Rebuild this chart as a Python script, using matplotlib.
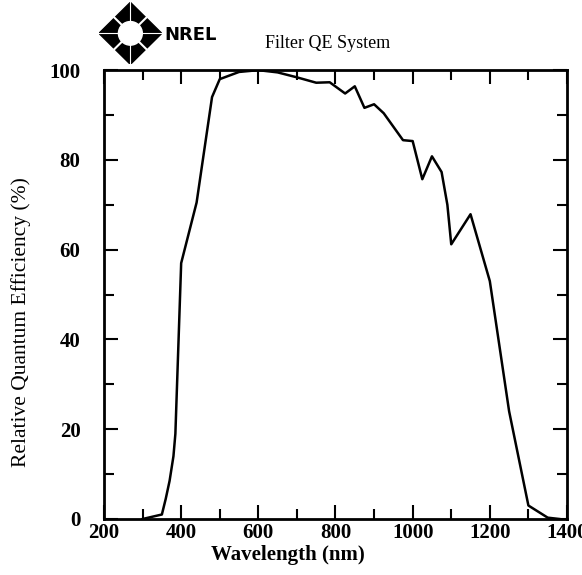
import matplotlib
matplotlib.use("Agg")
import matplotlib.pyplot as plt
from matplotlib.patches import Polygon, Circle

# courbe QE relative
wavelength = [300, 350, 360, 370, 380, 385, 400, 440, 480, 500, 550, 600, 650, 700,
              750, 785, 825, 850, 875, 900, 925, 975, 1000, 1025, 1050, 1075, 1090,
              1100, 1150, 1200, 1250, 1300, 1350, 1380]
rel_qe = [0, 1, 4.5, 8.5, 14, 19, 57, 70.5, 94, 98, 99.6, 100, 99.5, 98.4,
          97.2, 97.3, 94.8, 96.4, 91.6, 92.4, 90.4, 84.4, 84.2, 75.7, 80.8, 77.3, 70,
          61.2, 67.9, 53, 24, 3, 0.3, 0]
x_ticks = [200, 400, 600, 800, 1000, 1200, 1400]
y_ticks = [0, 20, 40, 60, 80, 100]

serif = ["Liberation Serif", "DejaVu Serif"]

fig = plt.figure(figsize=(5.82, 5.75), dpi=100)
ax = fig.add_axes([0.1787, 0.0974, 0.7955, 0.7806])

ax.plot(wavelength, rel_qe, color="black", lw=1.8)

ax.set_xlim(200, 1400)
ax.set_ylim(0, 100)
ax.set_xticks(x_ticks)
ax.set_yticks(y_ticks)
ax.set_xticks(range(300, 1400, 200), minor=True)
ax.set_yticks(range(10, 100, 20), minor=True)
ax.tick_params(which="both", direction="in", top=True, right=True, width=1.5)
ax.tick_params(which="major", length=10)
ax.tick_params(which="minor", length=7)
ax.tick_params(axis="x", which="major", pad=3)
ax.tick_params(axis="y", which="major", pad=17)
for lab in ax.get_xticklabels() + ax.get_yticklabels():
    lab.set_family(serif)
    lab.set_fontweight("bold")
    lab.set_fontsize(15)
for s in ax.spines.values():
    s.set_linewidth(2)

ax.set_xlabel("Wavelength (nm)", family=serif, fontweight="bold", fontsize=15)
ax.set_ylabel("Relative Quantum Efficiency (%)", family=serif, fontsize=15.5)
ax.xaxis.set_label_coords(0.397, -0.058)
ax.yaxis.set_label_coords(-0.158, 0.439)

# titre + logo NREL approximatif
fig.text(0.455, 0.925, "Filter QE System", family=serif, fontsize=13, va="center", ha="left")
fig.text(0.282, 0.94, "NREL", family="DejaVu Sans", fontweight="heavy", fontsize=13,
         va="center", ha="left")

logo = fig.add_axes([0.170, 0.888, 0.108, 0.108])
logo.set_xlim(-1, 1)
logo.set_ylim(-1, 1)
logo.axis("off")
logo.add_patch(Polygon([[0, 1], [1, 0], [0, -1], [-1, 0]], closed=True, color="black"))
logo.add_patch(Circle((0, 0), 0.38, color="white"))
for dx, dy in [(1, 1), (1, -1)]:
    logo.plot([-dx, dx], [-dy, dy], color="white", lw=1.5)
logo.plot([-1, 1], [0, 0], color="white", lw=0.8)
logo.plot([0, 0], [-1, 1], color="white", lw=0.8)

fig.savefig("out.png", dpi=100)
